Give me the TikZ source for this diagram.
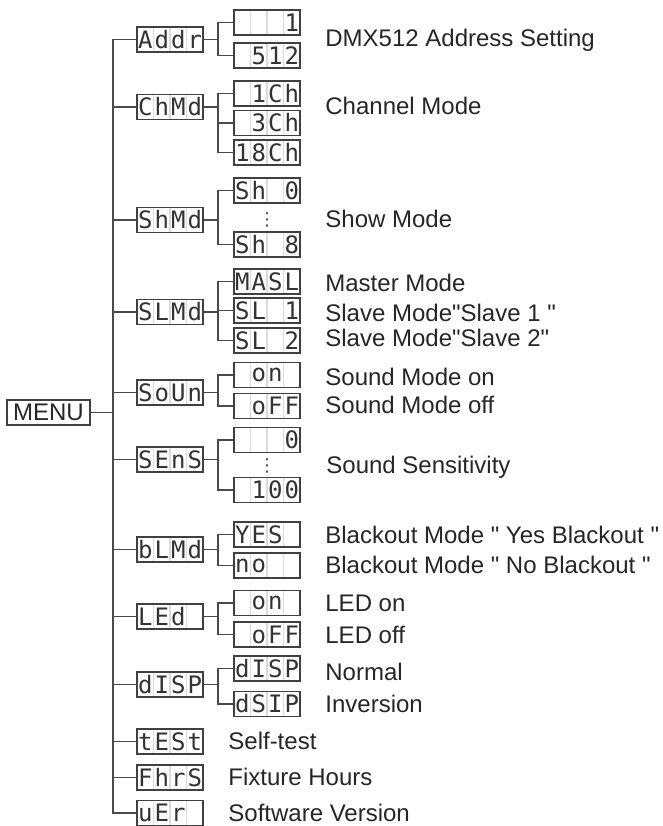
\documentclass[tikz,border=0pt]{standalone}
\usepackage{fontspec}
\setmainfont{Liberation Sans}[Ligatures=TeXOff]
\newfontfamily\segfont{DejaVu Sans Mono}
\newfontfamily\symfont{DejaVu Sans}
\usetikzlibrary{calc}
\definecolor{wiregray}{HTML}{4A4A4A}
\newcommand{\cells}[4]{\makebox[8.25pt]{#1}\makebox[8.25pt]{#2}\makebox[8.25pt]{#3}\makebox[8.25pt]{#4}}

\begin{document}
\begin{tikzpicture}[
  x=0.5pt, y=-0.5pt,
  font=\fontsize{12pt}{14pt}\selectfont,
  lcd/.style={draw=black!75, line width=0.9pt, fill=white,
              minimum width=33pt, minimum height=12.5pt, inner sep=0pt,
              text=black!80, font=\segfont\fontsize{12pt}{12pt}\selectfont,
              path picture={
                \foreach \k in {1,2,3}
                  \draw[black!14, line width=0.6pt]
                    ($(path picture bounding box.north west)!\k/4!(path picture bounding box.north east)$) --
                    ($(path picture bounding box.south west)!\k/4!(path picture bounding box.south east)$);
              }},
  menubox/.style={draw=black!75, line width=0.9pt, minimum width=41.5pt,
                  minimum height=12.5pt, inner sep=0pt, text=black!85},
  lab/.style={anchor=west, inner sep=0pt, text=black!85},
  dots/.style={inner sep=0pt, text=black!70, font=\symfont\fontsize{9pt}{9pt}\selectfont},
  wire/.style={line width=0.75pt, wiregray},
]
\useasboundingbox (0,0) rectangle (663,826);

% ── root ────────────────────────────────────────────────────────────────────
\node[menubox] (menu) at (48.5,412.5) {MENU};
\coordinate (trunk) at (113,0);
\coordinate (fork)  at (218,0);

% ── first level: menu entries ───────────────────────────────────────────────
\node[lcd] (addr) at (170,39.5)  {\cells{A}{d}{d}{r}};
\node[lcd] (chmd) at (170,107)   {\cells{C}{h}{M}{d}};
\node[lcd] (shmd) at (170,220)   {\cells{S}{h}{M}{d}};
\node[lcd] (slmd) at (170,312)   {\cells{S}{L}{M}{d}};
\node[lcd] (soun) at (170,392.5) {\cells{S}{o}{U}{n}};
\node[lcd] (sens) at (170,459.5) {\cells{S}{E}{n}{S}};
\node[lcd] (blmd) at (170,549.5) {\cells{b}{L}{M}{d}};
\node[lcd] (led)  at (170,616.5) {\cells{L}{E}{d}{}};
\node[lcd] (disp) at (170,684.5) {\cells{d}{I}{S}{P}};
\node[lcd] (test) at (170,741.5) {\cells{t}{E}{S}{t}};
\node[lcd] (fhrs) at (170,777.5) {\cells{F}{h}{r}{S}};
\node[lcd] (ver)  at (170,813)   {\cells{u}{E}{r}{}};

% ── second level: values ────────────────────────────────────────────────────
\node[lcd] (adlo)   at (267,22.5)  {\cells{}{}{}{1}};
\node[lcd] (adhi)   at (267,55.5)  {\cells{}{5}{1}{2}};
\node[lcd] (ch1)    at (267,93.5)  {\cells{}{1}{C}{h}};
\node[lcd] (ch3)    at (267,123)   {\cells{}{3}{C}{h}};
\node[lcd] (ch18)   at (267,152.5) {\cells{1}{8}{C}{h}};
\node[lcd] (sh0)    at (267,190.5) {\cells{S}{h}{}{0}};
\node[dots] (shdots) at (267,220)  {⋮};
\node[lcd] (sh8)    at (267,244.5) {\cells{S}{h}{}{8}};
\node[lcd] (mast)   at (267,281.5) {\cells{M}{A}{S}{L}};
\node[lcd] (sl1)    at (267,310.5) {\cells{S}{L}{}{1}};
\node[lcd] (sl2)    at (267,340.5) {\cells{S}{L}{}{2}};
\node[lcd] (snon)   at (267,375)   {\cells{}{o}{n}{}};
\node[lcd] (snoff)  at (267,406)   {\cells{}{o}{F}{F}};
\node[lcd] (sn0)    at (267,440)   {\cells{}{}{}{0}};
\node[dots] (sndots) at (267,466)  {⋮};
\node[lcd] (sn100)  at (267,490)   {\cells{}{1}{0}{0}};
\node[lcd] (blyes)  at (267,534.5) {\cells{Y}{E}{S}{}};
\node[lcd] (blno)   at (267,565.5) {\cells{n}{o}{}{}};
\node[lcd] (ledon)  at (267,603)   {\cells{}{o}{n}{}};
\node[lcd] (ledoff) at (267,634.5) {\cells{}{o}{F}{F}};
\node[lcd] (dnorm)  at (267,668.5) {\cells{d}{I}{S}{P}};
\node[lcd] (dinv)   at (267,704)   {\cells{d}{S}{I}{P}};

% trunk
\draw[wire] (menu.east) -- (menu.east -| trunk);
\draw[wire] (addr.west) -- (addr.west -| trunk) -- (ver.west -| trunk) -- (ver.west);
\draw[wire] (chmd.west) -- (chmd.west -| trunk);
\draw[wire] (shmd.west) -- (shmd.west -| trunk);
\draw[wire] (slmd.west) -- (slmd.west -| trunk);
\draw[wire] (soun.west) -- (soun.west -| trunk);
\draw[wire] (sens.west) -- (sens.west -| trunk);
\draw[wire] (blmd.west) -- (blmd.west -| trunk);
\draw[wire] (led.west)  -- (led.west -| trunk);
\draw[wire] (disp.west) -- (disp.west -| trunk);
\draw[wire] (test.west) -- (test.west -| trunk);
\draw[wire] (fhrs.west) -- (fhrs.west -| trunk);

% forks
\draw[wire] (addr.east) -- (addr.east -| fork);
\draw[wire] (addr.east -| fork) |- (adlo.west);
\draw[wire] (addr.east -| fork) |- (adhi.west);
\draw[wire] (chmd.east) -- (chmd.east -| fork);
\draw[wire] (chmd.east -| fork) |- (ch1.west);
\draw[wire] (chmd.east -| fork) |- (ch3.west);
\draw[wire] (chmd.east -| fork) |- (ch18.west);
\draw[wire] (shmd.east) -- (shmd.east -| fork);
\draw[wire] (shmd.east -| fork) |- (sh0.west);
\draw[wire] (shmd.east -| fork) |- (sh8.west);
\draw[wire] (slmd.east) -- (slmd.east -| fork);
\draw[wire] (slmd.east -| fork) |- (mast.west);
\draw[wire] (slmd.east -| fork) |- (sl1.west);
\draw[wire] (slmd.east -| fork) |- (sl2.west);
\draw[wire] (soun.east) -- (soun.east -| fork);
\draw[wire] (soun.east -| fork) |- (snon.west);
\draw[wire] (soun.east -| fork) |- (snoff.west);
\draw[wire] (sens.east) -- (sens.east -| fork);
\draw[wire] (sens.east -| fork) |- (sn0.west);
\draw[wire] (sens.east -| fork) |- (sn100.west);
\draw[wire] (blmd.east) -- (blmd.east -| fork);
\draw[wire] (blmd.east -| fork) |- (blyes.west);
\draw[wire] (blmd.east -| fork) |- (blno.west);
\draw[wire] (led.east) -- (led.east -| fork);
\draw[wire] (led.east -| fork) |- (ledon.west);
\draw[wire] (led.east -| fork) |- (ledoff.west);
\draw[wire] (disp.east) -- (disp.east -| fork);
\draw[wire] (disp.east -| fork) |- (dnorm.west);
\draw[wire] (disp.east -| fork) |- (dinv.west);

% ── descriptions ────────────────────────────────────────────────────────────
\node[lab] (t-addr)   at (325,40)  {DMX512 Address Setting};
\node[lab] (t-chmd)   at (325,106) {Channel Mode};
\node[lab] (t-shmd)   at (325,219) {Show Mode};
\node[lab] (t-mast)   at (325,283) {Master Mode};
\node[lab] (t-sl1)    at (325,313) {Slave Mode"Slave 1 "};
\node[lab] (t-sl2)    at (325,338) {Slave Mode"Slave 2"};
\node[lab] (t-snon)   at (325,377) {Sound Mode on};
\node[lab] (t-snoff)  at (325,405) {Sound Mode off};
\node[lab] (t-sens)   at (326,467) {Sound Sensitivity};
\node[lab] (t-blyes)  at (325,535) {Blackout Mode " Yes Blackout "};
\node[lab] (t-blno)   at (325,565) {Blackout Mode " No Blackout "};
\node[lab] (t-ledon)  at (325,603) {LED on};
\node[lab] (t-ledoff) at (325,635) {LED off};
\node[lab] (t-dnorm)  at (325,672) {Normal};
\node[lab] (t-dinv)   at (325,704) {Inversion};
\node[lab] (t-test)   at (228,741) {Self-test};
\node[lab] (t-fhrs)   at (228,777) {Fixture Hours};
\node[lab] (t-ver)    at (228,813) {Software Version};
\end{tikzpicture}
\end{document}
